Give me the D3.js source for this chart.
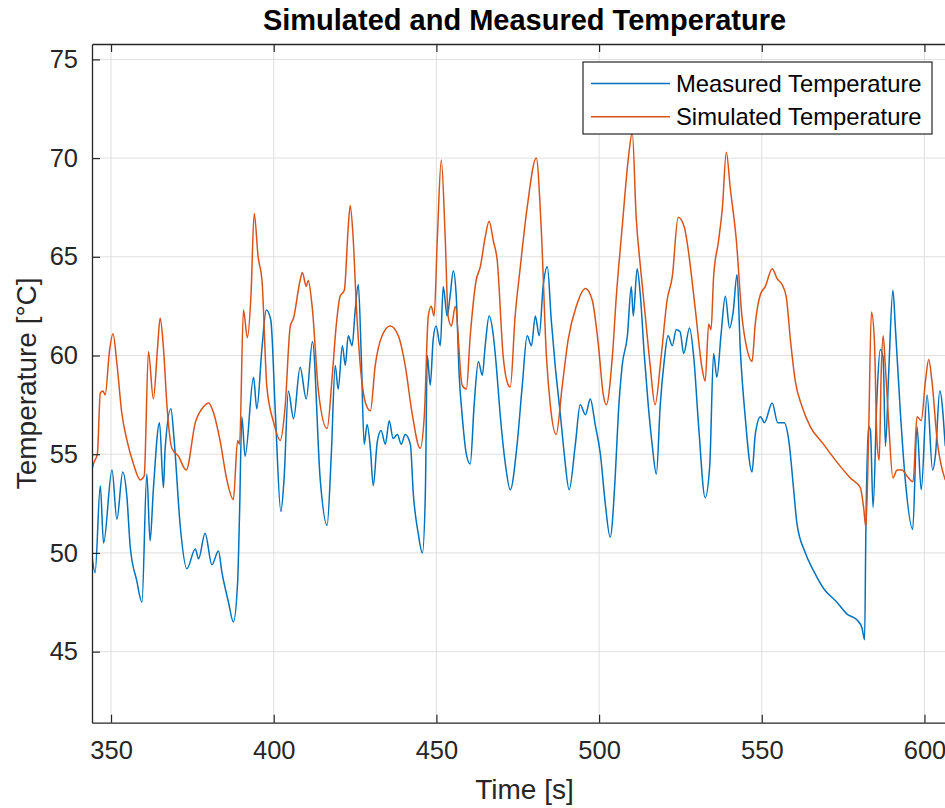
<!DOCTYPE html>
<html>
<head>
<meta charset="utf-8">
<script src="https://cdn.jsdelivr.net/npm/d3@7"></script>
<style>
  html, body { margin: 0; padding: 0; background: #fff; }
  svg { display: block; }
  text { font-family: "Liberation Sans", Arial, Helvetica, sans-serif; }
</style>
</head>
<body>
<svg id="chart" width="945" height="808"></svg>
<script>
// ---------------- data ----------------
const titleText = "Simulated and Measured Temperature";
const xLabel = "Time [s]";
const yLabel = "Temperature [°C]";
const seriesNames = ["Measured Temperature", "Simulated Temperature"];
const xTicks = [350, 400, 450, 500, 550, 600];
const yTicks = [45, 50, 55, 60, 65, 70, 75];

// [time (s), temperature (°C)]
const measured = [
  [344.1,49.9],[345.1,49.0],[346.7,53.4],[347.7,50.5],[350.3,54.2],[351.8,51.7],[353.6,54.1],[354.9,52.8],
  [355.9,50.3],[357.9,48.6],[359.5,47.5],[361.0,54.0],[362.0,50.6],[363.0,53.2],[364.9,56.6],[366.1,53.3],
  [366.6,55.2],[368.4,57.3],[369.4,55.7],[371.3,51.3],[373.3,49.2],[375.9,50.2],[376.9,49.7],[378.9,51.0],
  [381.0,49.4],[383.0,50.1],[384.1,49.0],[386.1,47.5],[387.6,46.5],[388.9,48.5],[389.5,52.0],[390.2,56.9],
  [391.2,54.9],[393.8,58.9],[394.8,57.3],[396.4,60.4],[397.7,62.3],[399.1,61.8],[400.5,57.1],[402.2,52.1],
  [403.2,53.8],[404.5,58.2],[406.1,56.8],[408.1,59.4],[410.0,57.8],[411.9,60.7],[414.3,53.7],[416.4,51.4],
  [417.7,55.0],[418.9,59.5],[419.8,58.3],[421.1,60.5],[422.0,59.5],[422.9,61.0],[424.1,60.5],[425.0,62.2],
  [426.0,63.6],[426.9,60.0],[427.8,55.5],[428.7,56.5],[429.7,55.3],[430.6,53.4],[431.8,55.6],[433.0,56.2],
  [434.3,55.5],[435.5,56.7],[436.7,55.8],[438.0,56.0],[439.2,55.5],[440.4,56.0],[442.0,55.5],[442.9,53.0],
  [444.4,51.0],[445.7,50.0],[446.6,53.0],[447.2,60.0],[448.1,58.5],[449.0,60.8],[449.9,61.5],[451.2,60.5],
  [452.1,63.5],[453.3,62.0],[454.2,63.0],[455.2,64.3],[456.1,63.0],[457.0,59.0],[457.9,57.0],[459.2,55.0],
  [460.4,54.5],[461.6,57.5],[462.9,59.7],[464.1,59.0],[465.0,60.5],[466.2,62.0],[467.5,61.0],[468.4,59.5],
  [469.6,57.0],[471.2,54.5],[472.7,53.2],[474.8,55.5],[476.4,58.5],[477.9,61.0],[479.2,60.5],[480.4,62.0],
  [481.6,61.0],[482.8,63.5],[484.1,64.5],[485.3,61.8],[486.5,59.5],[488.1,57.0],[489.3,55.0],[490.8,53.2],
  [492.7,55.5],[494.2,57.5],[495.8,57.0],[497.3,57.8],[498.8,56.5],[500.4,55.0],[501.9,52.5],[503.4,50.8],
  [505.0,54.0],[505.9,57.0],[507.1,59.5],[508.7,61.0],[509.9,63.5],[510.5,62.0],[511.7,64.4],[512.7,63.0],
  [513.9,60.0],[515.1,57.5],[516.3,55.5],[517.6,54.0],[518.8,57.5],[520.0,59.7],[521.2,61.0],[522.5,60.5],
  [523.7,61.3],[524.9,61.2],[526.0,60.1],[527.8,61.4],[529.1,59.9],[530.6,56.4],[532.6,52.8],[534.0,54.4],
  [535.2,60.1],[536.2,58.9],[537.5,61.1],[538.8,63.0],[540.1,61.4],[541.2,62.2],[542.4,64.1],[543.4,60.3],
  [544.9,56.9],[547.0,54.1],[548.0,56.0],[549.6,56.9],[550.8,56.6],[553.2,57.6],[554.9,56.6],[556.9,56.6],
  [558.3,55.7],[559.8,53.2],[560.8,51.5],[563.4,50.0],[565.9,49.1],[569.0,48.2],[573.1,47.5],[576.2,46.9],
  [579.3,46.6],[580.8,46.2],[581.6,45.6],[582.0,51.3],[582.8,56.4],[583.4,56.2],[584.2,52.3],[585.4,57.9],
  [586.4,60.3],[587.3,59.9],[588.0,55.4],[589.0,59.1],[590.3,63.3],[591.1,61.3],[592.6,57.1],[594.1,53.7],
  [596.4,51.2],[597.7,56.4],[599.0,53.2],[600.8,58.0],[602.5,54.2],[603.4,55.0],[604.7,58.2],[606.4,55.4]
];

const simulated = [
  [344.1,54.2],[344.8,54.6],[345.8,55.0],[346.7,58.1],[347.5,58.2],[348.2,58.0],[349.5,60.2],[350.6,61.1],
  [351.8,59.6],[353.3,57.1],[354.9,55.7],[356.9,54.5],[359.0,53.7],[360.2,53.9],[361.5,60.2],[363.0,57.8],
  [364.3,60.4],[365.1,61.9],[366.1,60.4],[367.3,57.2],[368.7,55.3],[370.7,54.9],[373.1,54.2],[375.9,56.6],
  [378.4,57.4],[380.0,57.6],[381.5,57.1],[383.5,55.7],[385.6,53.7],[387.6,52.7],[388.9,55.7],[389.5,55.5],
  [390.7,62.3],[391.9,60.9],[393.0,63.0],[394.0,67.2],[395.2,65.0],[396.4,63.8],[397.9,58.4],[400.0,56.6],
  [402.0,55.7],[403.5,57.4],[405.1,61.5],[406.1,61.9],[408.1,63.8],[408.8,64.2],[410.0,63.5],[410.6,63.8],
  [411.8,62.5],[413.8,58.1],[416.4,56.3],[418.0,59.0],[419.2,61.5],[420.4,63.0],[421.7,63.3],[422.9,66.5],
  [423.5,67.6],[424.4,66.0],[425.4,62.5],[426.6,59.5],[428.4,57.5],[429.7,57.2],[431.2,59.5],[433.3,61.0],
  [435.8,61.5],[438.3,61.0],[440.4,59.5],[442.6,57.0],[445.0,55.3],[446.3,57.0],[447.5,62.0],[448.4,62.5],
  [449.3,62.0],[450.3,66.0],[451.5,69.9],[452.7,66.0],[453.6,62.0],[454.6,61.5],[455.8,62.5],[457.9,58.5],
  [459.2,58.3],[460.4,61.0],[462.2,63.8],[463.5,64.5],[465.0,66.0],[466.2,66.8],[467.5,65.8],[468.7,64.8],
  [470.5,60.0],[472.1,58.5],[472.7,58.4],[474.2,62.0],[475.8,64.5],[477.9,67.5],[480.7,70.0],[482.2,66.5],
  [483.8,60.0],[485.0,57.5],[486.8,56.0],[488.7,58.5],[490.5,60.8],[493.0,62.5],[495.8,63.4],[497.9,62.8],
  [499.8,60.5],[501.3,58.0],[502.2,57.5],[504.1,60.0],[505.3,63.0],[507.1,66.5],[509.0,70.0],[510.2,71.3],
  [511.4,67.0],[512.7,64.5],[514.2,62.0],[515.7,59.5],[517.2,57.5],[519.1,60.0],[520.9,62.8],[522.5,64.0],
  [524.3,67.0],[526.2,66.5],[527.0,65.8],[529.6,62.3],[531.6,59.4],[532.6,58.7],[533.7,61.6],[534.4,61.3],
  [535.2,64.0],[536.7,65.8],[537.9,67.5],[539.1,70.3],[540.3,68.5],[542.2,65.8],[543.9,62.0],[545.5,60.3],
  [547.0,59.7],[548.0,61.6],[549.6,63.1],[551.1,63.5],[553.2,64.4],[554.7,63.9],[556.2,63.6],[557.5,63.0],
  [558.8,60.8],[560.3,58.7],[562.4,57.4],[564.9,56.4],[569.0,55.5],[573.1,54.6],[577.2,53.8],[580.3,53.3],
  [581.3,52.3],[582.0,51.3],[582.8,55.7],[583.7,62.2],[584.6,60.8],[585.4,55.7],[586.1,54.7],[586.7,59.1],
  [587.3,61.0],[588.0,59.4],[589.0,56.6],[590.3,53.8],[591.6,54.2],[593.1,54.2],[594.6,53.9],[596.5,53.6],
  [597.7,56.9],[599.0,56.7],[600.3,58.7],[601.3,59.8],[602.3,58.7],[603.9,55.7],[606.4,53.7]
];

const colors = ["#0072BD", "#D95319"];
const xDomain = [344.15, 610];
const yDomain = [41.4, 75.78];

// ---------------- layout ----------------
const plot = { left: 92, top: 44, right: 957, bottom: 722.7 };
const axisColor = "#262626";
const gridColor = "#dfdfdf";

const svg = d3.select("#chart");
const x = d3.scaleLinear().domain(xDomain).range([plot.left, plot.right]);
const y = d3.scaleLinear().domain(yDomain).range([plot.bottom, plot.top]);

svg.append("rect").attr("x", plot.left).attr("y", plot.top)
  .attr("width", plot.right - plot.left).attr("height", plot.bottom - plot.top)
  .attr("fill", "#fff");

// grid
const grid = svg.append("g");
grid.selectAll("line.gx").data(xTicks).join("line")
  .attr("x1", d => x(d)).attr("x2", d => x(d))
  .attr("y1", plot.top).attr("y2", plot.bottom)
  .attr("stroke", gridColor).attr("stroke-width", 1);
grid.selectAll("line.gy").data(yTicks).join("line")
  .attr("y1", d => y(d)).attr("y2", d => y(d))
  .attr("x1", plot.left).attr("x2", plot.right)
  .attr("stroke", gridColor).attr("stroke-width", 1);

// clip
svg.append("clipPath").attr("id", "clip").append("rect")
  .attr("x", plot.left).attr("y", plot.top)
  .attr("width", plot.right - plot.left).attr("height", plot.bottom - plot.top);

const line = d3.line().x(d => x(d[0])).y(d => y(d[1])).curve(d3.curveMonotoneX);
const lines = svg.append("g").attr("clip-path", "url(#clip)");
[measured, simulated].forEach((s, i) => {
  lines.append("path").datum(s).attr("d", line)
    .attr("fill", "none").attr("stroke", colors[i])
    .attr("stroke-width", 1.5).attr("stroke-linejoin", "round");
});

// axes (MATLAB style: inward ticks, box)
const tickLen = 8;
const fontTick = 25.5;
const xAxisB = d3.axisBottom(x).tickValues(xTicks).tickSizeInner(-tickLen).tickSizeOuter(0).tickPadding(18);
const xAxisT = d3.axisTop(x).tickValues(xTicks).tickSizeInner(-tickLen).tickSizeOuter(0).tickFormat("");
const yAxisL = d3.axisLeft(y).tickValues(yTicks).tickSizeInner(-tickLen).tickSizeOuter(0).tickPadding(14);

function style(g) {
  g.select(".domain").attr("stroke", axisColor).attr("stroke-width", 1.3);
  g.selectAll(".tick line").attr("stroke", axisColor).attr("stroke-width", 1.2);
  g.selectAll(".tick text").attr("fill", axisColor)
    .style("font-size", fontTick + "px")
    .style("font-family", '"Liberation Sans", Arial, Helvetica, sans-serif');
}
svg.append("g").attr("transform", `translate(0,${plot.bottom})`).call(xAxisB).call(style);
svg.append("g").attr("transform", `translate(0,${plot.top})`).call(xAxisT).call(style);
svg.append("g").attr("transform", `translate(${plot.left},0)`).call(yAxisL).call(style);

// title and labels
svg.append("text").attr("x", (plot.left + plot.right) / 2).attr("y", 30)
  .attr("text-anchor", "middle").attr("font-weight", "bold")
  .attr("font-size", 29).attr("fill", "#000").text(titleText);
svg.append("text").attr("x", (plot.left + plot.right) / 2).attr("y", 799)
  .attr("text-anchor", "middle").attr("font-size", 28).attr("fill", axisColor).text(xLabel);
svg.append("text").attr("transform", `translate(36,${(plot.top + plot.bottom) / 2}) rotate(-90)`)
  .attr("text-anchor", "middle").attr("font-size", 28).attr("fill", axisColor).text(yLabel);

// legend
const lg = svg.append("g");
lg.append("rect").attr("x", 583).attr("y", 62).attr("width", 349).attr("height", 72)
  .attr("fill", "#fff").attr("stroke", axisColor).attr("stroke-width", 1.2);
seriesNames.forEach((name, i) => {
  const yy = 83.5 + i * 33.3;
  lg.append("line").attr("x1", 591).attr("x2", 670).attr("y1", yy).attr("y2", yy)
    .attr("stroke", colors[i]).attr("stroke-width", 1.5);
  lg.append("text").attr("x", 676).attr("y", yy).attr("dy", "0.35em")
    .attr("font-size", 23.8).attr("fill", "#000").text(name);
});
</script>
</body>
</html>
